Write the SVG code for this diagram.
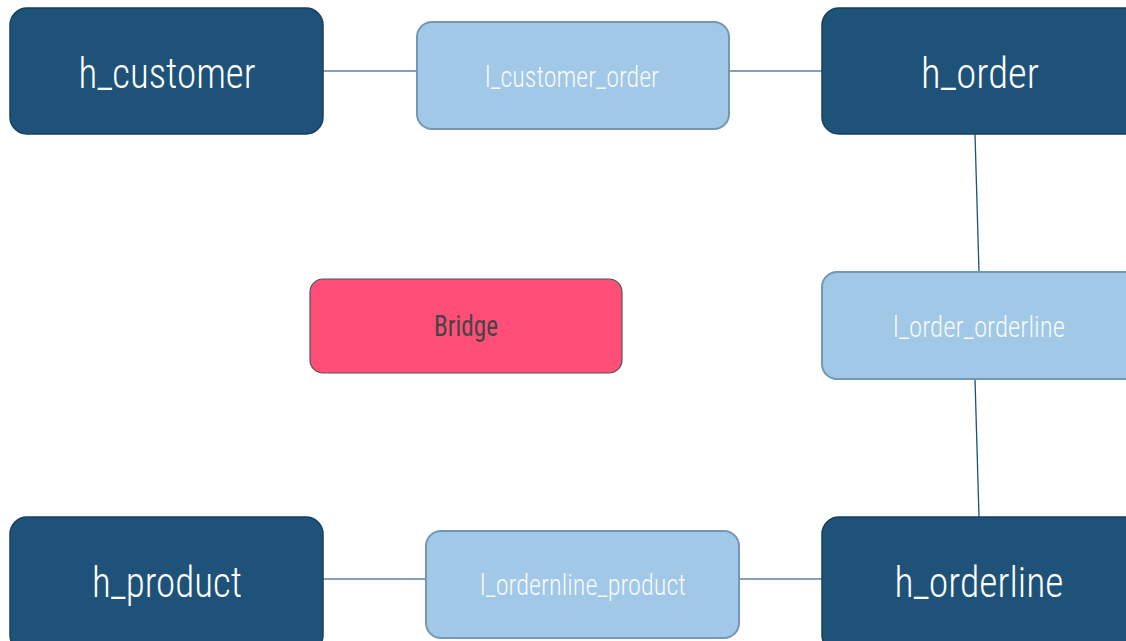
<svg xmlns="http://www.w3.org/2000/svg" width="1126" height="641" viewBox="0 0 1126 641">
<style>
.hub{fill:#1e5279;stroke:#173f5f;stroke-width:1.5}
.link{fill:#a1c8e6;stroke:#7397b4;stroke-width:2}
.bridge{fill:#ff4f78;stroke:#555;stroke-width:1.2}
.t{font-family:"Roboto Condensed","Liberation Sans Narrow","DejaVu Sans Condensed",Roboto,sans-serif;text-anchor:middle}
.th{fill:#fff;font-size:43px;font-weight:300}
.tl{fill:#f7fafd;font-size:30px;font-weight:300}
.tb{fill:#444;font-size:29px;font-weight:400}
.c{stroke:#5b7f9f;stroke-width:1.5;fill:none}
.cv{stroke:#1e5279;stroke-width:1.3;fill:none}
</style>
<rect width="1126" height="641" fill="#fff"/>
<g id="connectors">
<line class="c" x1="323" y1="71" x2="417" y2="71"/>
<line class="c" x1="729" y1="71" x2="822" y2="71"/>
<line class="cv" x1="975" y1="134" x2="979" y2="272"/>
<line class="cv" x1="975" y1="379" x2="979" y2="517"/>
<line class="c" x1="323" y1="579" x2="426" y2="579"/>
<line class="c" x1="739" y1="579" x2="822" y2="579"/>
</g>
<g id="h_customer">
<rect class="hub" x="10" y="8" width="313" height="126" rx="17"/>
<text class="t th" x="167" y="88" textLength="177" lengthAdjust="spacingAndGlyphs">h_customer</text>
</g>
<g id="l_customer_order">
<rect class="link" x="417" y="22" width="312" height="107" rx="15"/>
<text class="t tl" x="572" y="87" textLength="174" lengthAdjust="spacingAndGlyphs">l_customer_order</text>
</g>
<g id="h_order">
<rect class="hub" x="822" y="8" width="320" height="126" rx="17"/>
<text class="t th" x="980" y="88" textLength="118" lengthAdjust="spacingAndGlyphs">h_order</text>
</g>
<g id="bridge">
<rect class="bridge" x="310" y="279" width="312" height="94" rx="13"/>
<text class="t tb" x="466" y="336" textLength="64" lengthAdjust="spacingAndGlyphs">Bridge</text>
</g>
<g id="l_order_orderline">
<rect class="link" x="822" y="272" width="320" height="107" rx="15"/>
<text class="t tl" x="979" y="337" textLength="172" lengthAdjust="spacingAndGlyphs">l_order_orderline</text>
</g>
<g id="h_product">
<rect class="hub" x="10" y="517" width="313" height="135" rx="17"/>
<text class="t th" x="167" y="597" textLength="150" lengthAdjust="spacingAndGlyphs">h_product</text>
</g>
<g id="l_ordernline_product">
<rect class="link" x="426" y="531" width="313" height="107" rx="15"/>
<text class="t tl" x="583" y="595" textLength="206" lengthAdjust="spacingAndGlyphs">l_ordernline_product</text>
</g>
<g id="h_orderline">
<rect class="hub" x="822" y="517" width="320" height="135" rx="17"/>
<text class="t th" x="979" y="597" textLength="169" lengthAdjust="spacingAndGlyphs">h_orderline</text>
</g>
</svg>
